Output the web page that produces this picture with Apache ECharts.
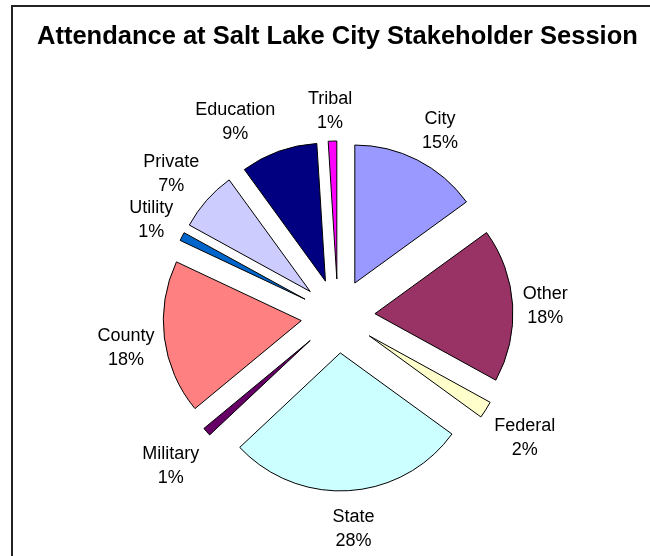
<!DOCTYPE html>
<html><head><meta charset="utf-8">
<script src="https://cdn.jsdelivr.net/npm/echarts@6/dist/echarts.min.js"></script>
<style>html,body{margin:0;padding:0;background:#fff}#c{width:650px;height:556px}</style>
</head><body><div id="c"></div>
<script>
const categories = ['City','Other','Federal','State','Military','County','Utility','Private','Education','Tribal'];
const values = [15, 18, 2, 28, 1, 18, 1, 7, 9, 1];
const colors = ['#9999FF','#993366','#FFFFCC','#CCFFFF','#660066','#FF8080','#0066CC','#CCCCFF','#000080','#FF00FF'];
const chartTitle = 'Attendance at Salt Lake City Stakeholder Session';

const CX = 338, CY = 316, R = 138, EXPLODE = 37, GAP = 10;
const LABEL_SIZE = 18, LABEL_LH = 24, LABEL_DY = 4;
const FONT = '"Liberation Sans", Arial, sans-serif';

const total = values.reduce((a, b) => a + b, 0);
const mids = [];
let acc = 0;
values.forEach(v => { mids.push((acc + v / 2) / total * 2 * Math.PI); acc += v; });

const clamp = v => Math.max(-1, Math.min(1, v));
// measure label text to place each two-line label just outside its exploded slice
const ctx = document.createElement('canvas').getContext('2d');
ctx.font = LABEL_SIZE + 'px ' + FONT;
const labelTexts = categories.map((n, i) => n + '\n' + Math.round(values[i] / total * 100) + '%');
const labelGraphics = labelTexts.map((t, i) => {
  const w = Math.max(...t.split('\n').map(s => ctx.measureText(s).width));
  const h = LABEL_LH * 2;
  const ux = Math.sin(mids[i]), uy = -Math.cos(mids[i]);
  const d = R + EXPLODE + GAP;
  return {
    type: 'text', silent: true,
    x: CX + ux * d + clamp(3 * ux) * w / 2,
    y: CY + uy * d + clamp(1.5 * uy) * h / 2 + LABEL_DY,
    style: {
      text: t, fill: '#000', font: LABEL_SIZE + 'px ' + FONT,
      lineHeight: LABEL_LH, align: 'center', verticalAlign: 'middle'
    }
  };
});

const chart = echarts.init(document.getElementById('c'), null, {renderer: 'canvas'});
chart.setOption({
  animation: false,
  backgroundColor: '#fff',
  title: {
    text: chartTitle, left: 37, top: 24, padding: 0,
    textStyle: {fontFamily: FONT, fontSize: 25.5, fontWeight: 'bold', color: '#000'}
  },
  graphic: [{
    type: 'rect', x: 12, y: 6, silent: true,
    shape: {x: 0, y: 0, width: 700, height: 600},
    style: {fill: 'none', stroke: '#222', lineWidth: 2}
  }].concat(labelGraphics),
  series: [{
    type: 'pie',
    center: [CX, CY],
    radius: R,
    startAngle: 90,
    clockwise: true,
    selectedMode: 'multiple',
    selectedOffset: EXPLODE,
    avoidLabelOverlap: false,
    itemStyle: {borderColor: '#000', borderWidth: 1},
    select: {itemStyle: {borderColor: '#000', borderWidth: 1}},
    emphasis: {disabled: true},
    label: {show: false},
    labelLine: {show: false},
    data: categories.map((n, i) => ({name: n, value: values[i], selected: true, itemStyle: {color: colors[i]}}))
  }]
});
</script></body></html>
